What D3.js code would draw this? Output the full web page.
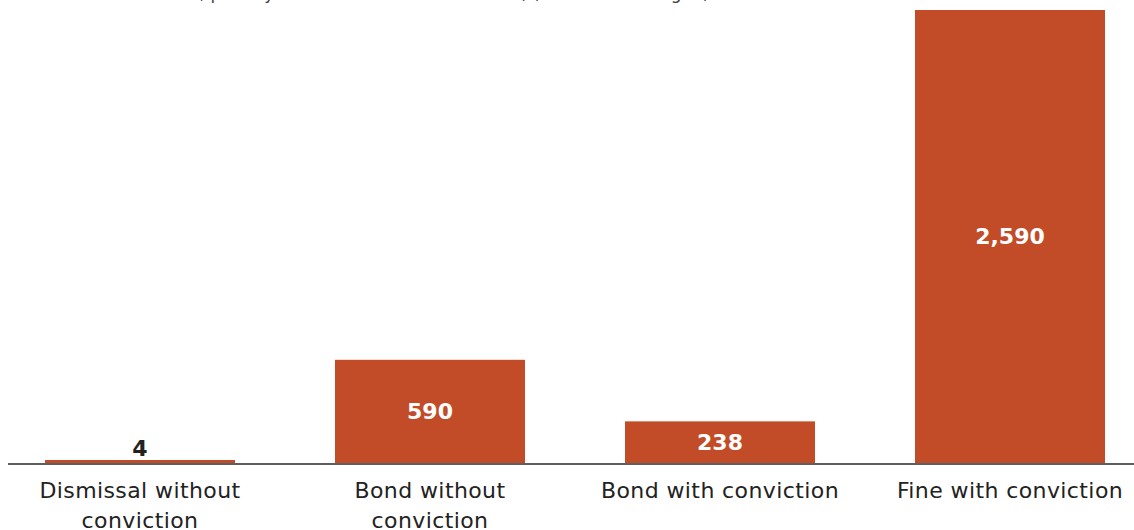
<!DOCTYPE html>
<html>
<head>
<meta charset="utf-8">
<script src="https://cdn.jsdelivr.net/npm/d3@7"></script>
<style>
  html, body { margin: 0; padding: 0; background: #fff; }
  svg { display: block; }
</style>
</head>
<body>
<div id="chart"></div>
<script>
// Outcomes of finalised matters
const categories = ["Dismissal without conviction", "Bond without conviction", "Bond with conviction", "Fine with conviction"];
const values = [4, 590, 238, 2590];
const valueLabels = ["4", "590", "238", "2,590"];
const subtitle = "Finalised court matters, penalty for the most serious offence(s) that were charged)";

const W = 1134, H = 530;
const baseY = 463;
const barColor = "#C24C27";
const FONT = "DejaVu Sans, Verdana, sans-serif";

const svg = d3.select("#chart").append("svg")
  .attr("width", W).attr("height", H);

// subtitle, running off the top edge
svg.append("text")
  .attr("x", 4).attr("y", -1)
  .attr("font-family", FONT)
  .attr("font-size", 17)
  .attr("fill", "#444")
  .text(subtitle);

const x = d3.scaleBand()
  .domain(categories)
  .range([-5, 1155])
  .paddingInner(100 / 290)
  .paddingOuter(50 / 290);

const y = d3.scaleLinear()
  .domain([0, 2590])
  .range([baseY, 10]);

const data = categories.map((c, i) => ({ cat: c, value: values[i], label: valueLabels[i] }));

svg.selectAll("rect.bar")
  .data(data)
  .join("rect")
  .attr("class", "bar")
  .attr("x", d => x(d.cat))
  .attr("width", x.bandwidth())
  .attr("y", d => Math.min(y(d.value), baseY - 3))
  .attr("height", d => Math.max(baseY - y(d.value), 3))
  .attr("fill", barColor);

// baseline
svg.append("line")
  .attr("x1", 8).attr("x2", W)
  .attr("y1", baseY + 1).attr("y2", baseY + 1)
  .attr("stroke", "#5f5f62").attr("stroke-width", 2);

// value labels: centred inside tall bars, above short ones
const inside = d => (baseY - y(d.value)) > 30;
svg.selectAll("text.val")
  .data(data)
  .join("text")
  .attr("class", "val")
  .attr("x", d => x(d.cat) + x.bandwidth() / 2)
  .attr("y", d => inside(d) ? (y(d.value) + baseY) / 2 : baseY - 7)
  .attr("dy", d => inside(d) ? "0.36em" : "0")
  .attr("text-anchor", "middle")
  .attr("font-family", FONT)
  .attr("font-weight", "bold")
  .attr("font-size", 22)
  .attr("fill", d => inside(d) ? "#fff" : "#222")
  .text(d => d.label);

// category labels, wrapped
const catSize = 22;
const catSpacing = 0.4;
function wrap(text, width) {
  const words = text.split(" ");
  const lines = [];
  let line = [];
  const probe = svg.append("text")
    .attr("font-family", FONT)
    .attr("font-size", catSize)
    .attr("letter-spacing", catSpacing);
  words.forEach(w => {
    line.push(w);
    probe.text(line.join(" "));
    if (probe.node().getComputedTextLength() > width && line.length > 1) {
      line.pop();
      lines.push(line.join(" "));
      line = [w];
    }
  });
  lines.push(line.join(" "));
  probe.remove();
  return lines;
}

svg.selectAll("text.cat")
  .data(data)
  .join("text")
  .attr("class", "cat")
  .attr("text-anchor", "middle")
  .attr("font-family", FONT)
  .attr("font-size", catSize)
  .attr("letter-spacing", catSpacing)
  .attr("fill", "#222")
  .each(function(d) {
    const lines = wrap(d.cat, 250);
    d3.select(this).selectAll("tspan")
      .data(lines)
      .join("tspan")
      .attr("x", x(d.cat) + x.bandwidth() / 2)
      .attr("y", (l, i) => 498 + i * 30)
      .text(l => l);
  });
</script>
</body>
</html>
